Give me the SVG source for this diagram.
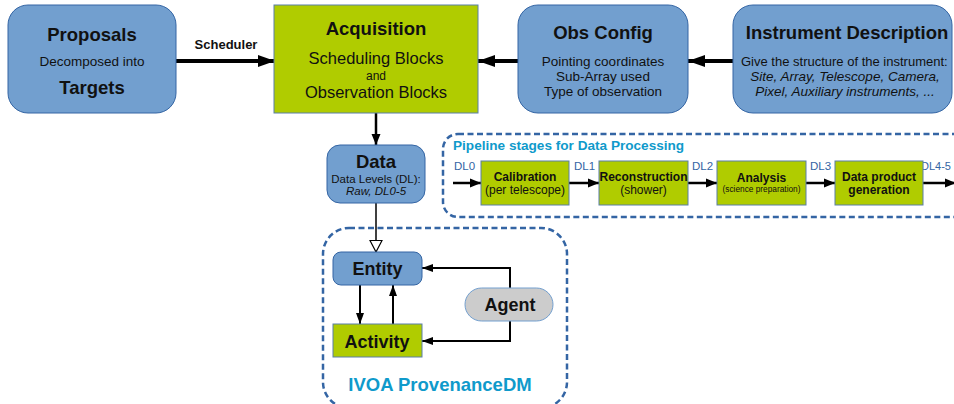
<svg xmlns="http://www.w3.org/2000/svg" width="954" height="404" viewBox="0 0 954 404">
<style>
text{font-family:"Liberation Sans",Arial,sans-serif;fill:#111}
.b{font-weight:bold}
.blue{fill:#729fcf;stroke:#3465a4;stroke-width:1}
.green{fill:#b0cc00;stroke:#5a7fa8;stroke-width:1}
.grey{fill:#cccccc;stroke:#729fcf;stroke-width:1}
.dash{fill:none;stroke:#3465a4;stroke-width:2.5;stroke-dasharray:6 3.5}
.thick{stroke:#000;stroke-width:4;fill:none}
.mid{stroke:#000;stroke-width:2.5;fill:none}
.thin{stroke:#000;stroke-width:2;fill:none}
.dl{font-size:11.5px;fill:#3465a4}
.ttl{font-weight:bold;fill:#0f9acb}
</style>
<defs>
<marker id="hBig" markerUnits="userSpaceOnUse" markerWidth="18" markerHeight="14" refX="17" refY="7" orient="auto"><path d="M0,1 L17,7 L0,13 Z" fill="#000"/></marker>
<marker id="hMid" markerUnits="userSpaceOnUse" markerWidth="12" markerHeight="10" refX="11" refY="5" orient="auto"><path d="M0,0.5 L11,5 L0,9.5 Z" fill="#000"/></marker>
<marker id="hSm" markerUnits="userSpaceOnUse" markerWidth="12" markerHeight="10" refX="11" refY="5" orient="auto"><path d="M0,1 L11,5 L0,9 Z" fill="#000"/></marker>
<marker id="hOpen" markerUnits="userSpaceOnUse" markerWidth="14" markerHeight="16" refX="12.5" refY="7" orient="auto"><path d="M1,1 L12.5,7 L1,13 Z" fill="#fff" stroke="#000" stroke-width="1.2"/></marker>
</defs>

<g id="pipeline-frame"><rect class="dash" x="443" y="134" width="530" height="83" rx="15"/></g>
<g id="provenance-frame"><rect class="dash" x="323" y="228" width="244" height="180" rx="26"/></g>

<g id="connectors">
<line class="thick" x1="176" y1="61" x2="275" y2="61" marker-end="url(#hBig)"/>
<line class="thick" x1="518" y1="61" x2="478" y2="61" marker-end="url(#hBig)"/>
<line class="thick" x1="733" y1="61" x2="688" y2="61" marker-end="url(#hBig)"/>
<line class="mid" x1="376" y1="113" x2="376" y2="145" marker-end="url(#hMid)"/>
<line stroke="#000" stroke-width="1.5" x1="376" y1="203" x2="376" y2="252" marker-end="url(#hOpen)"/>
<line class="mid" x1="453" y1="183" x2="481" y2="183" marker-end="url(#hMid)"/>
<line class="mid" x1="569" y1="183" x2="599" y2="183" marker-end="url(#hMid)"/>
<line class="mid" x1="688" y1="183" x2="717" y2="183" marker-end="url(#hMid)"/>
<line class="mid" x1="806" y1="183" x2="835" y2="183" marker-end="url(#hMid)"/>
<line class="mid" x1="923" y1="183" x2="956" y2="183" marker-end="url(#hMid)"/>
<line class="thin" x1="360" y1="285" x2="360" y2="324" marker-end="url(#hSm)"/>
<line class="thin" x1="393" y1="324" x2="393" y2="285" marker-end="url(#hSm)"/>
<polyline class="thin" points="510,288 510,268 422,268" marker-end="url(#hSm)"/>
<polyline class="thin" points="510,321 510,341 422,341" marker-end="url(#hSm)"/>
</g>

<g id="proposals">
<rect class="blue" x="8" y="5" width="168" height="108" rx="20"/>
<text class="b" x="92" y="41" font-size="18.5" text-anchor="middle">Proposals</text>
<text x="92" y="66" font-size="13.5" text-anchor="middle">Decomposed into</text>
<text class="b" x="92" y="94" font-size="18.5" text-anchor="middle">Targets</text>
</g>
<text id="scheduler-label" class="b" x="226" y="49" font-size="13" text-anchor="middle">Scheduler</text>

<g id="acquisition">
<rect class="green" x="274" y="5" width="204" height="108"/>
<text class="b" x="376" y="35" font-size="18.5" text-anchor="middle">Acquisition</text>
<text x="376" y="64" font-size="16.5" text-anchor="middle">Scheduling Blocks</text>
<text x="376" y="80" font-size="12" text-anchor="middle">and</text>
<text x="376" y="98" font-size="16.5" text-anchor="middle">Observation Blocks</text>
</g>

<g id="obsconfig">
<rect class="blue" x="518" y="5" width="170" height="108" rx="20"/>
<text class="b" x="603" y="39" font-size="18.5" text-anchor="middle">Obs Config</text>
<text x="603" y="66" font-size="13.5" text-anchor="middle">Pointing coordinates</text>
<text x="603" y="81" font-size="13.5" text-anchor="middle">Sub-Array used</text>
<text x="603" y="96" font-size="13.5" text-anchor="middle">Type of observation</text>
</g>

<g id="instrument">
<rect class="blue" x="733" y="5" width="219" height="108" rx="20"/>
<text class="b" x="847" y="39" font-size="18.5" text-anchor="middle">Instrument Description</text>
<text x="741" y="66" font-size="13">Give the structure of the instrument:</text>
<text x="845" y="81" font-size="13.5" font-style="italic" text-anchor="middle">Site, Array, Telescope, Camera,</text>
<text x="845" y="96" font-size="13.5" font-style="italic" text-anchor="middle">Pixel, Auxiliary instruments, ...</text>
</g>

<g id="data">
<rect class="blue" x="327" y="145" width="98" height="58" rx="13"/>
<text class="b" x="376" y="168" font-size="18.5" text-anchor="middle">Data</text>
<text x="376" y="183" font-size="11.5" text-anchor="middle">Data Levels (DL):</text>
<text x="376" y="195" font-size="11.5" font-style="italic" text-anchor="middle">Raw, DL0-5</text>
</g>

<g id="pipeline-title"><text class="ttl" x="453" y="150" font-size="13.6">Pipeline stages for Data Processing</text></g>
<g id="dl-labels">
<text class="dl" x="454" y="170">DL0</text>
<text class="dl" x="574" y="170">DL1</text>
<text class="dl" x="692" y="170">DL2</text>
<text class="dl" x="810" y="170">DL3</text>
<text class="dl" x="921" y="170" style="font-size:11px">DL4-5</text>
</g>

<g id="calibration">
<rect class="green" x="481" y="161" width="88" height="44"/>
<text class="b" x="525" y="181" font-size="12" text-anchor="middle">Calibration</text>
<text x="525" y="194" font-size="12" text-anchor="middle">(per telescope)</text>
</g>
<g id="reconstruction">
<rect class="green" x="599" y="161" width="89" height="44"/>
<text class="b" x="643.5" y="181" font-size="12" text-anchor="middle">Reconstruction</text>
<text x="643.5" y="194" font-size="12" text-anchor="middle">(shower)</text>
</g>
<g id="analysis">
<rect class="green" x="717" y="161" width="89" height="44"/>
<text class="b" x="761.5" y="182" font-size="12" text-anchor="middle">Analysis</text>
<text x="761.5" y="192" font-size="8.3" text-anchor="middle">(science preparation)</text>
</g>
<g id="dataproduct">
<rect class="green" x="835" y="161" width="88" height="44"/>
<text class="b" x="879" y="181" font-size="12" text-anchor="middle">Data product</text>
<text class="b" x="879" y="194" font-size="12" text-anchor="middle">generation</text>
</g>

<g id="entity">
<rect class="blue" x="333" y="252" width="89" height="33" rx="8"/>
<text class="b" x="377.5" y="275" font-size="18" text-anchor="middle">Entity</text>
</g>
<g id="activity">
<rect class="green" x="333" y="324" width="89" height="33"/>
<text class="b" x="377" y="348" font-size="18" text-anchor="middle">Activity</text>
</g>
<g id="agent">
<rect class="grey" x="465" y="288" width="88" height="33" rx="16.5"/>
<text class="b" x="510" y="311" font-size="18" text-anchor="middle">Agent</text>
</g>
<g id="provenance-title"><text class="ttl" x="440" y="391" font-size="18.5" text-anchor="middle">IVOA ProvenanceDM</text></g>
</svg>
